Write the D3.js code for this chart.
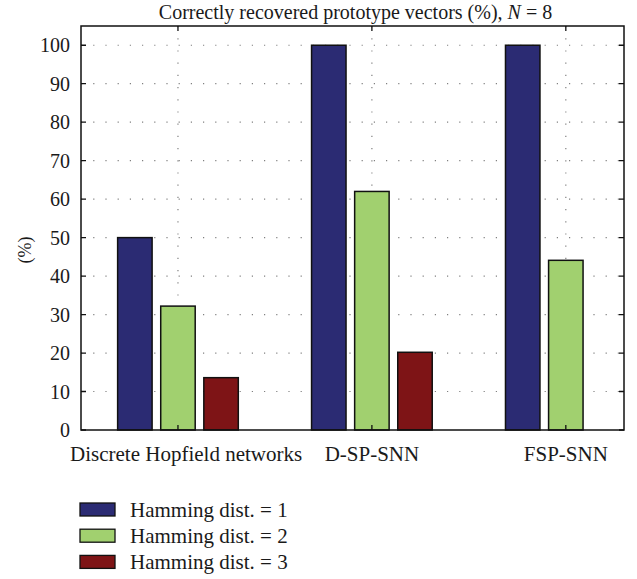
<!DOCTYPE html>
<html>
<head>
<meta charset="utf-8">
<script src="https://cdn.jsdelivr.net/npm/d3@7"></script>
<style>
  body { margin: 0; background: #fff; }
  svg text { font-family: "Liberation Serif", "DejaVu Serif", serif; fill: #1a1a1a; }
</style>
</head>
<body>
<svg id="chart" width="637" height="579"></svg>
<script>
// data
const categories = ['Discrete Hopfield networks', 'D-SP-SNN', 'FSP-SNN'];
const seriesNames = ['Hamming dist. = 1', 'Hamming dist. = 2', 'Hamming dist. = 3'];
const dist1 = [50, 100, 100];
const dist2 = [32.2, 62, 44.1];
const dist3 = [13.6, 20.2, 0];
const yTicks = [0, 10, 20, 30, 40, 50, 60, 70, 80, 90, 100];
const colors = ['#2b2b73', '#a1d06f', '#7e1416'];

const series = [dist1, dist2, dist3];

const svg = d3.select('#chart');
const margin = {left: 81, right: 13, top: 26, bottom: 149};
const width = 637 - margin.left - margin.right;
const height = 579 - margin.top - margin.bottom;

const g = svg.append('g').attr('transform', `translate(${margin.left},${margin.top})`);

// matlab style axis: groups sit at 1, 2, 3 and the box runs 0.5 .. 3.3
const x = d3.scaleLinear().domain([0.5, 3.3]).range([0, width]);
const y = d3.scaleLinear().domain([0, 105]).range([height, 0]);

// grouped bar offsets, same rule matlab uses for 3 series
const nSeries = series.length;
const groupWidth = Math.min(0.8, nSeries / (nSeries + 1.5));
const step = groupWidth / nSeries;
const barWidth = step * 0.8;
const offset = i => (i - (nSeries - 1) / 2) * step;

// dotted grid
const gridStyle = sel => sel.attr('stroke', '#808080').attr('stroke-width', 1.2).attr('stroke-dasharray', '1.2,11');
g.selectAll('.hgrid').data(yTicks.filter(d => d > 0)).join('line')
  .attr('x1', 0).attr('x2', width)
  .attr('y1', d => y(d)).attr('y2', d => y(d))
  .call(gridStyle);
g.selectAll('.vgrid').data(categories).join('line')
  .attr('x1', (d, i) => x(i + 1)).attr('x2', (d, i) => x(i + 1))
  .attr('y1', 0).attr('y2', height)
  .call(gridStyle);

// bars
series.forEach((vals, s) => {
  g.selectAll('.bar' + s).data(vals).join('rect')
    .attr('x', (d, i) => x(i + 1 + offset(s) - barWidth / 2))
    .attr('width', x(barWidth) - x(0))
    .attr('y', d => y(d))
    .attr('height', d => y(0) - y(d))
    .attr('fill', colors[s])
    .attr('stroke', '#111')
    .attr('stroke-width', 1.5);
});

// axis box
g.append('rect').attr('width', width).attr('height', height)
  .attr('fill', 'none').attr('stroke', '#111').attr('stroke-width', 1.5);

// inward ticks on left and right
g.selectAll('.ytick').data(yTicks).join('path')
  .attr('d', d => `M0,${y(d)}h5M${width},${y(d)}h-5`)
  .attr('stroke', '#111').attr('stroke-width', 1.3);
g.selectAll('.xtick').data(categories).join('path')
  .attr('d', (d, i) => `M${x(i + 1)},0v5M${x(i + 1)},${height}v-5`)
  .attr('stroke', '#111').attr('stroke-width', 1.3);

// tick labels
g.selectAll('.ylab').data(yTicks).join('text')
  .attr('x', -11).attr('y', d => y(d)).attr('dy', '0.35em')
  .attr('text-anchor', 'end').attr('font-size', 20)
  .text(d => d);

const xLabels = g.selectAll('.xlab').data(categories).join('text')
  .attr('x', (d, i) => x(i + 1)).attr('y', height + 31)
  .attr('text-anchor', 'middle').attr('font-size', 21)
  .text(d => d);
// keep the long first label from running past the figure edge
xLabels.each(function () {
  const b = this.getBBox();
  const minLeft = 70 - margin.left;
  if (b.x < minLeft) d3.select(this).attr('x', +d3.select(this).attr('x') + (minLeft - b.x));
});

// title
svg.append('text')
  .attr('x', margin.left + width / 2 + 3).attr('y', 19)
  .attr('text-anchor', 'middle').attr('font-size', 20)
  .html('Correctly recovered prototype vectors (%), <tspan font-style="italic">N</tspan> = 8');

// y axis label
svg.append('text')
  .attr('transform', `translate(31,${margin.top + height / 2 + 22}) rotate(-90)`)
  .attr('text-anchor', 'middle').attr('font-size', 18)
  .text('(%)');

// legend
const legend = svg.append('g').attr('transform', 'translate(80,503)');
const rows = legend.selectAll('g').data(seriesNames).join('g')
  .attr('transform', (d, i) => `translate(0,${i * 26.2})`);
rows.append('rect')
  .attr('width', 35).attr('height', 13)
  .attr('fill', (d, i) => colors[i])
  .attr('stroke', '#111').attr('stroke-width', 1.3);
rows.append('text')
  .attr('x', 50).attr('y', 13.5)
  .attr('font-size', 21)
  .text(d => d);
</script>
</body>
</html>
